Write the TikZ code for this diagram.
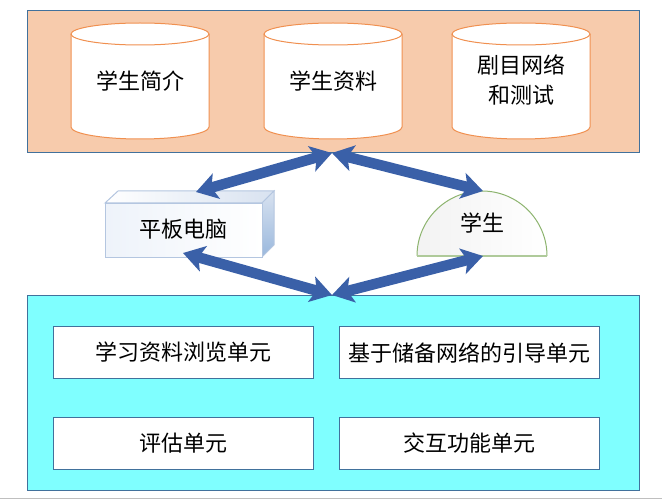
\documentclass[tikz,border=0pt]{standalone}
\usepackage{fontspec}
\setmainfont{Noto Sans CJK SC}
\usetikzlibrary{arrows.meta}
\definecolor{panelline}{HTML}{41719C}
\definecolor{toppanel}{HTML}{F7CBAC}
\definecolor{botpanel}{HTML}{7FFFFF}
\definecolor{cylline}{HTML}{ED7D31}
\definecolor{arrowblue}{HTML}{3A60A8}
\definecolor{cubeline}{HTML}{B4C6E0}
\definecolor{cubeside}{HTML}{9AB8DD}
\definecolor{cubetop}{HTML}{D8E2F0}
\definecolor{cubefront}{HTML}{EEF3FA}
\definecolor{arcline}{HTML}{8DB46F}
\tikzset{
  x=1pt,y=-1pt,
  lbl/.style={font=\fontsize{22pt}{30pt}\selectfont,text=black,inner sep=0pt,align=center},
  panel/.style={draw=panelline,line width=1pt,anchor=north west,inner sep=0pt},
  unitbox/.style={panel,fill=white,minimum width=260pt,minimum height=52pt,font=\fontsize{22pt}{30pt}\selectfont},
  cyl/.style={draw=cylline!85!white,line width=1pt,fill=white},
  biarrow/.style={draw=arrowblue,line width=10.5pt,{Stealth[length=21pt,width=26pt,inset=5pt]}-{Stealth[length=21pt,width=26pt,inset=5pt]}},
}
\newcommand{\dbcyl}[1]{%
  \path[cyl] (#1,34) arc[start angle=180,end angle=360,x radius=69,y radius=11]
    -- (#1+138,127) arc[start angle=0,end angle=180,x radius=69,y radius=12] -- cycle;
  \draw[cyl,fill=none] (#1,34) arc[start angle=180,end angle=0,x radius=69,y radius=11];
}
\begin{document}
\begin{tikzpicture}
\useasboundingbox (0,0) rectangle (662,500);
\draw[color=black!25,line width=1pt] (0,498.5) -- (662,498.5);
\node[panel,fill=toppanel,minimum width=612pt,minimum height=142pt] (top) at (27,10) {};
\node[panel,fill=botpanel,minimum width=612pt,minimum height=195pt] (bottom) at (27,295) {};

\dbcyl{71}\dbcyl{264}\dbcyl{452}
\node[lbl] (c1) at (140,81) {学生简介};
\node[lbl] (c2) at (333,81) {学生资料};
\node[lbl] (c3) at (521,80) {剧目网络\\和测试};

% tablet cuboid
\path[left color=white,right color=cubetop,draw=cubeline,line width=1pt]
  (105,203) -- (118,191) -- (274,191) -- (262,203) -- cycle;
\path[top color=cubetop,bottom color=cubeside,draw=cubeline,line width=1pt]
  (262,203) -- (274,191) -- (274,245) -- (262,257) -- cycle;
\node[anchor=north west,minimum width=157pt,minimum height=54pt,inner sep=0pt,line width=1pt,
  draw=cubeline,left color=cubefront,right color=white] (tablet) at (105,203) {};
\node[lbl] (tabtext) at (183,229) {平板电脑};

% student half disc
\path[left color=black!5,right color=white]
  (417,256) arc[start angle=180,end angle=360,radius=65] -- cycle;
\draw[arcline,line width=1pt] (417,256) arc[start angle=180,end angle=360,radius=65];
\draw[arcline!70!white,line width=1.3pt] (417,256) -- (547,256);
\node[lbl] (stud) at (482,223) {学生};

\node[unitbox] (u1) at (53,326) {学习资料浏览单元};
\node[unitbox] (u2) at (339,326) {基于储备网络的引导单元};
\node[unitbox] (u3) at (53,417) {评估单元};
\node[unitbox] (u4) at (339,417) {交互功能单元};

\coordinate (topj) at (332,153);
\coordinate (botj) at (332,295);
\coordinate (tabtop) at (196,192);
\coordinate (tabbot) at (183,253);
\coordinate (stutop) at (483,191);
\coordinate (stubot) at (483,256);

\draw[biarrow] (tabtop) -- (topj);
\draw[biarrow] (topj) -- (stutop);
\draw[biarrow] (tabbot) -- (botj);
\draw[biarrow] (botj) -- (stubot);
\end{tikzpicture}
\end{document}
